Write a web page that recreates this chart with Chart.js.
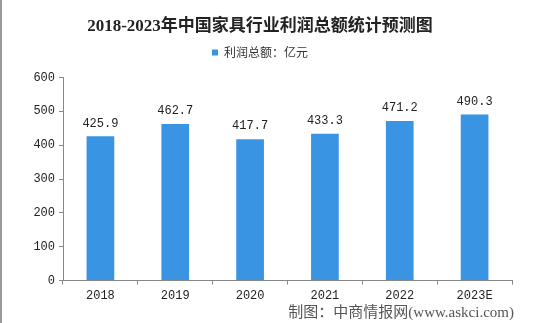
<!DOCTYPE html>
<html>
<head>
<meta charset="utf-8">
<script src="https://cdn.jsdelivr.net/npm/chart.js@4"></script>
<style>
  html, body { margin: 0; padding: 0; background: #fff; }
</style>
</head>
<body>
<canvas id="profitChart" width="554" height="323"></canvas>
<script>
const years = ["2018", "2019", "2020", "2021", "2022", "2023E"];
const profit = [425.9, 462.7, 417.7, 433.3, 471.2, 490.3];
const yTicks = [0, 100, 200, 300, 400, 500, 600];

const MONO = '"Liberation Mono", "DejaVu Sans Mono", monospace';

// value labels above each bar
const valueLabels = {
  id: 'valueLabels',
  afterDatasetsDraw(chart) {
    const ctx = chart.ctx;
    const meta = chart.getDatasetMeta(0);
    ctx.save();
    ctx.font = '12px ' + MONO;
    ctx.fillStyle = '#222';
    ctx.textAlign = 'center';
    ctx.textBaseline = 'bottom';
    meta.data.forEach((bar, i) => {
      ctx.fillText(profit[i].toFixed(1), bar.x, bar.y - 7);
    });
    ctx.restore();
  }
};

// extra gap under the legend
const legendGap = {
  id: 'legendGap',
  beforeInit(chart) {
    const fit = chart.legend.fit;
    chart.legend.fit = function () {
      fit.bind(chart.legend)();
      this.height += 9;
    };
  }
};

// source note + frame
const footer = {
  id: 'footer',
  afterDraw(chart) {
    const ctx = chart.ctx;
    ctx.save();
    ctx.font = '15px "Liberation Serif", "Noto Sans CJK SC", serif';
    ctx.fillStyle = '#555';
    ctx.textAlign = 'right';
    ctx.textBaseline = 'middle';
    ctx.fillText('制图：中商情报网(www.askci.com)', 514, 313);
    ctx.strokeStyle = '#999';
    ctx.lineWidth = 2;
    ctx.beginPath();
    ctx.moveTo(1, 0);
    ctx.lineTo(1, 323);
    ctx.stroke();
    ctx.restore();
  }
};

new Chart(document.getElementById('profitChart').getContext('2d'), {
  type: 'bar',
  data: {
    labels: years,
    datasets: [{
      label: '利润总额：亿元',
      data: profit,
      backgroundColor: '#3a94e4',
      categoryPercentage: 1,
      barPercentage: 0.37
    }]
  },
  options: {
    responsive: false,
    animation: false,
    devicePixelRatio: 1,
    layout: { padding: { left: 8, right: 42, top: 8, bottom: 16 } },
    plugins: {
      title: {
        display: true,
        text: '2018-2023年中国家具行业利润总额统计预测图',
        color: '#222',
        font: { family: '"Liberation Serif", "Noto Sans CJK SC", serif', size: 17, weight: 'bold' },
        padding: { top: 8, bottom: 0 }
      },
      legend: {
        display: true,
        labels: {
          boxWidth: 6,
          boxHeight: 6,
          padding: 10,
          color: '#333',
          font: { family: '"Noto Sans CJK SC", sans-serif', size: 12 }
        }
      },
      tooltip: { enabled: false }
    },
    scales: {
      x: {
        grid: { drawOnChartArea: false, drawTicks: true, tickLength: 4, color: '#888', offset: true },
        border: { color: '#888' },
        ticks: { color: '#222', font: { family: MONO, size: 12 }, padding: 4 }
      },
      y: {
        min: 0,
        max: 600,
        afterBuildTicks(axis) { axis.ticks = yTicks.map(v => ({ value: v })); },
        afterFit(axis) { axis.width = 55; },
        grid: { drawOnChartArea: false, drawTicks: true, tickLength: 4, color: '#888' },
        border: { color: '#888' },
        ticks: { color: '#222', font: { family: MONO, size: 12 }, padding: 4 }
      }
    }
  },
  plugins: [valueLabels, legendGap, footer]
});
</script>
</body>
</html>
